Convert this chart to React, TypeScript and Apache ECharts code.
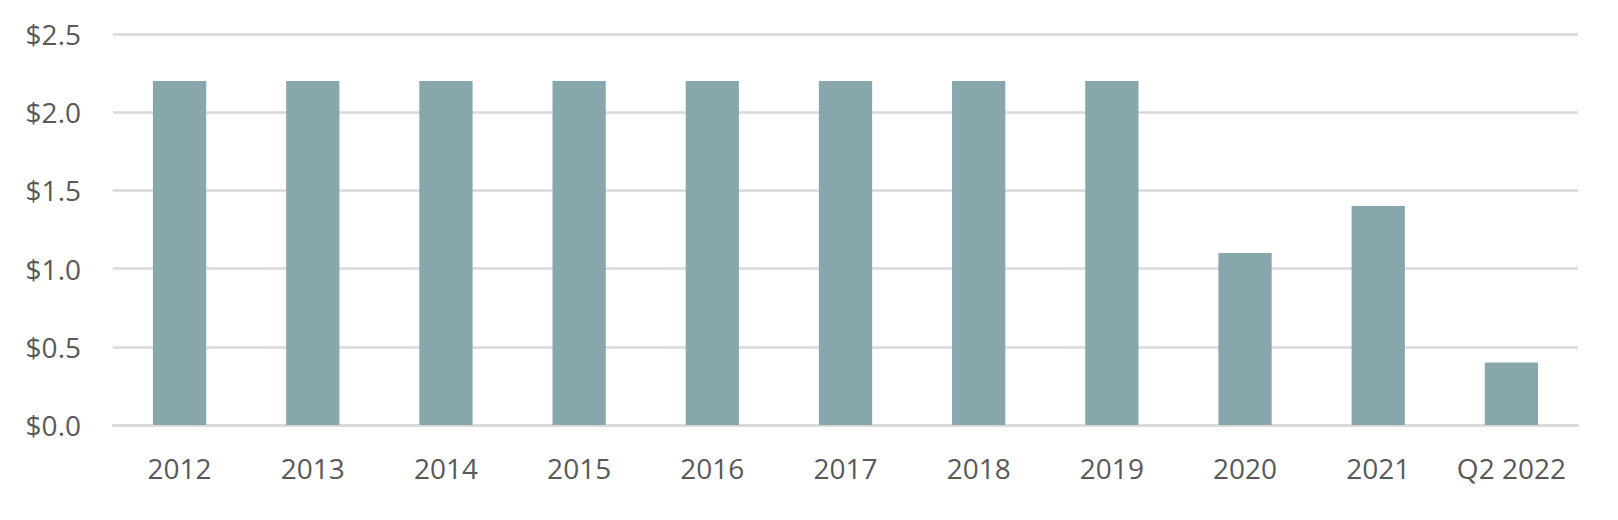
import React, { useEffect, useRef } from "react";
import * as echarts from "echarts";

const categories = ["2012", "2013", "2014", "2015", "2016", "2017", "2018", "2019", "2020", "2021", "Q2 2022"];
const values = [2.2, 2.2, 2.2, 2.2, 2.2, 2.2, 2.2, 2.2, 1.1, 1.4, 0.4];
const yTicks = { min: 0, max: 2.5, interval: 0.5 };

export default function App() {
  const ref = useRef<HTMLDivElement>(null);
  useEffect(() => {
    if (!ref.current) return;
    const chart = echarts.init(ref.current, null, { renderer: "svg" });
    const font = "'Open Sans', Calibri, sans-serif";
    chart.setOption({
      animation: false,
      backgroundColor: "#ffffff",
      grid: { left: 113, right: 40, top: 34, bottom: 95, containLabel: false },
      xAxis: {
        type: "category",
        data: categories,
        axisLine: { show: true, lineStyle: { color: "#d9d9d9", width: 2.5 } },
        axisTick: { show: false },
        axisLabel: { color: "#595959", fontSize: 28, fontFamily: font, margin: 29, interval: 0 },
      },
      yAxis: {
        type: "value",
        min: yTicks.min,
        max: yTicks.max,
        interval: yTicks.interval,
        axisLine: { show: false },
        axisTick: { show: false },
        splitLine: { lineStyle: { color: "#d9d9d9", width: 2.5 } },
        axisLabel: {
          color: "#595959",
          fontSize: 28,
          fontFamily: font,
          margin: 32,
          formatter: (v: number) => `$${v.toFixed(1)}`,
        },
      },
      series: [
        {
          type: "bar",
          data: values,
          barWidth: "40%",
          itemStyle: { color: "#87a7ad" },
        },
      ],
    });
    return () => chart.dispose();
  }, []);
  return (
    <div
      ref={ref}
      style={{ position: "fixed", left: 0, top: 0, width: 1618, height: 520 }}
    />
  );
}
